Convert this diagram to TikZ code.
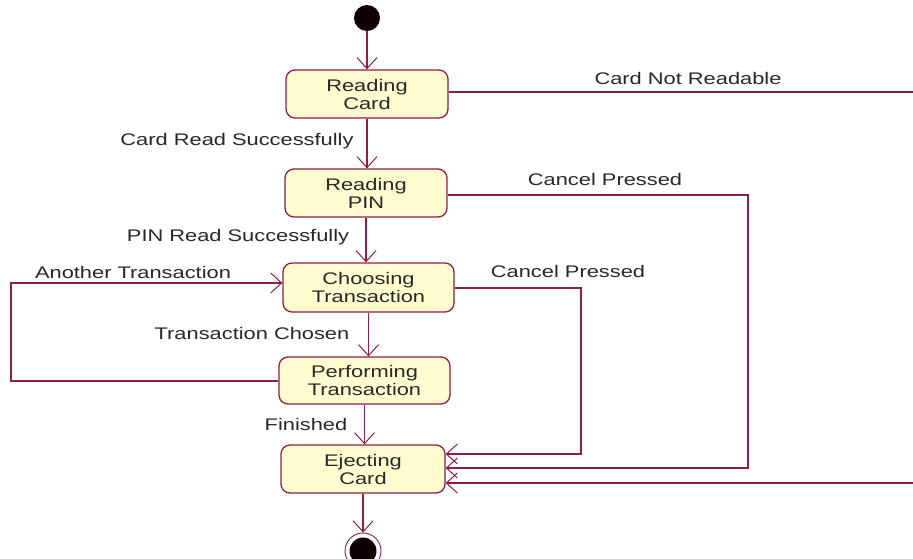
\documentclass[tikz,border=0pt]{standalone}
\usepackage{fontspec}
\setmainfont{Liberation Sans}[FakeStretch=1.3]
\usetikzlibrary{arrows.meta}
\definecolor{edge}{RGB}{140,30,72}
\definecolor{statefill}{RGB}{255,253,208}
\definecolor{ink}{RGB}{40,40,40}
\definecolor{dot}{RGB}{15,0,8}

\begin{document}
\begin{tikzpicture}[x=1pt,y=-1pt,
  state/.style={draw=edge, line width=1.3pt, fill=statefill, rounded corners=9pt,
    align=center, font=\fontsize{16.8}{18}\selectfont, text=ink, inner sep=0pt},
  flow/.style={draw=edge, line width=1.1pt,
    -{Straight Barb[length=11pt,width=20pt,line width=1pt]}},
  lbl/.style={font=\fontsize{16.8}{18}\selectfont, text=ink, inner sep=0pt}]

\useasboundingbox[fill=white] (0,0) rectangle (913,558);

% initial and final pseudo-states
\node (init) [circle, fill=dot, minimum size=26pt, inner sep=0pt] at (367,18) {};
\node (finring) [circle, draw=edge, line width=0.9pt, minimum size=36pt, inner sep=0pt] at (363,551) {};
\node (findot) [circle, fill=dot, minimum size=27pt, inner sep=0pt] at (363,551) {};

% states
\node (rc) [state, minimum width=162pt, minimum height=48pt] at (367,94) {Reading\\Card};
\node (rp) [state, minimum width=162pt, minimum height=48pt] at (366,193) {Reading\\PIN};
\node (ct) [state, minimum width=171pt, minimum height=49pt] at (368.5,287.5) {Choosing\\Transaction};
\node (pt) [state, minimum width=171pt, minimum height=47pt] at (364.5,380.5) {Performing\\Transaction};
\node (ec) [state, minimum width=164pt, minimum height=48pt] at (363,469) {Ejecting\\Card};

% main flow
\draw[flow] (init) -- (init |- rc.north);
\draw[flow] (rc.south) -- (rc.south |- rp.north);
\draw[flow] (rp.south) -- (rp.south |- ct.north);
\draw[flow] (ct.south) -- (ct.south |- pt.north);
\draw[flow] (pt.south) -- (pt.south |- ec.north);
\draw[flow] (ec.south) -- (ec.south |- finring.north);

% loop back for another transaction
\draw[flow] (pt.west |- 0,381) -- (11,381) -- (11,283) -- (ct.west |- 0,283);

% cancel and failure paths into ejecting the card
\draw[flow] (ct.east |- 0,288) -- (581,288) -- (581,454) -- (ec.east |- 0,454);
\draw[flow] (rp.east |- 0,195) -- (748,195) -- (748,468) -- (ec.east |- 0,468);
\draw[flow] (rc.east |- 0,92) -- (925,92) -- (925,483) -- (ec.east |- 0,483);

% transition labels
\node (l1) [lbl] at (688,78) {Card Not Readable};
\node (l2) [lbl] at (237,141) {Card Read Successfully};
\node (l3) [lbl] at (605,179) {Cancel Pressed};
\node (l4) [lbl] at (238,237) {PIN Read Successfully};
\node (l5) [lbl] at (133,272) {Another Transaction};
\node (l6) [lbl] at (568,271) {Cancel Pressed};
\node (l7) [lbl] at (252,333) {Transaction Chosen};
\node (l8) [lbl] at (306,424) {Finished};
\end{tikzpicture}
\end{document}
